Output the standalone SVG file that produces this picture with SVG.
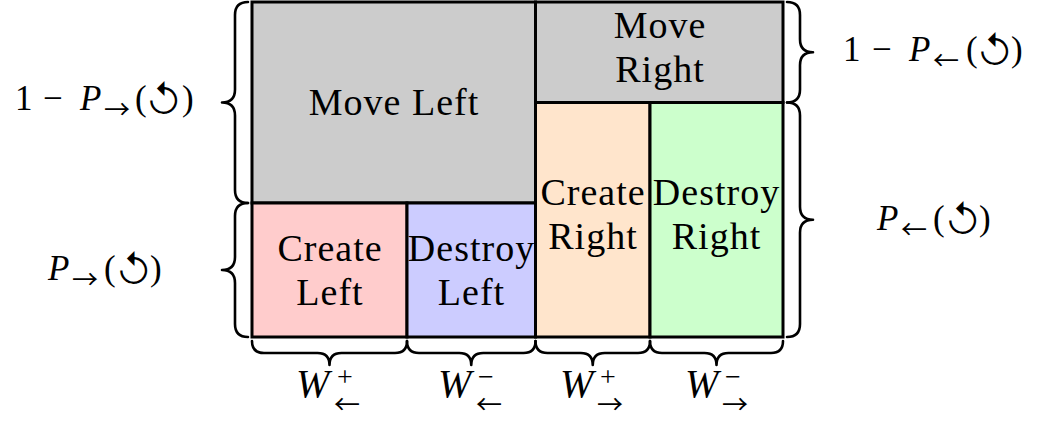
<svg xmlns="http://www.w3.org/2000/svg" width="1037" height="423" viewBox="0 0 1037 423">
<style>
.box{stroke:#000;stroke-width:3}
.lbl{font-family:"Liberation Serif","Times New Roman",serif;font-size:38px;letter-spacing:1px;text-anchor:middle;fill:#000}
.m{font-family:"Liberation Serif","Times New Roman",serif;font-size:35px;fill:#000}
.it{font-style:italic}
.w{font-style:italic;font-size:40px}
.ar{font-family:"Noto Sans CJK SC","DejaVu Sans",sans-serif;font-size:26px}
.cw{font-family:"Inter","DejaVu Sans",sans-serif;font-size:37px;font-weight:300}
.sup{font-size:28px}
.brace{fill:none;stroke:#000;stroke-width:2.6;stroke-linejoin:round;stroke-linecap:round}
</style>
<rect width="1037" height="423" fill="#fff"/>
<g id="move-left"><rect class="box" x="252" y="2" width="283.5" height="201" fill="#cccccc"/><text class="lbl" x="394" y="115">Move Left</text></g>
<g id="move-right"><rect class="box" x="535.5" y="2" width="247.5" height="100.5" fill="#cccccc"/><text class="lbl" x="660" y="38">Move</text><text class="lbl" x="660" y="82">Right</text></g>
<g id="create-left"><rect class="box" x="252" y="203" width="155" height="134" fill="#ffcccc"/><text class="lbl" x="330" y="261">Create</text><text class="lbl" x="330" y="305">Left</text></g>
<g id="destroy-left"><rect class="box" x="407" y="203" width="128.5" height="134" fill="#ccccff"/><text class="lbl" x="471.5" y="261">Destroy</text><text class="lbl" x="471.5" y="305">Left</text></g>
<g id="create-right"><rect class="box" x="535.5" y="102.5" width="114.5" height="234.5" fill="#ffe5cc"/><text class="lbl" x="593" y="205">Create</text><text class="lbl" x="593" y="249">Right</text></g>
<g id="destroy-right"><rect class="box" x="650" y="102.5" width="133" height="234.5" fill="#ccffcc"/><text class="lbl" x="716.5" y="205">Destroy</text><text class="lbl" x="716.5" y="249">Right</text></g>
<g id="connectors">
<path class="brace" d="M248,2 Q235,2 235,15 L235,89.5 Q235,102.5 222,102.5 Q235,102.5 235,115.5 L235,190 Q235,203 248,203"/>
<path class="brace" d="M248,203 Q235,203 235,216 L235,257 Q235,270 222,270 Q235,270 235,283 L235,324 Q235,337 248,337"/>
<path class="brace" d="M787,2 Q800,2 800,15 L800,39.25 Q800,52.25 813,52.25 Q800,52.25 800,65.25 L800,89.5 Q800,102.5 787,102.5"/>
<path class="brace" d="M787,102.5 Q800,102.5 800,115.5 L800,206.75 Q800,219.75 813,219.75 Q800,219.75 800,232.75 L800,324 Q800,337 787,337"/>
<path class="brace" d="M252,341 Q252,353 264,353 L317.5,353 Q329.5,353 329.5,365 Q329.5,353 341.5,353 L395,353 Q407,353 407,341"/>
<path class="brace" d="M407,341 Q407,353 419,353 L459.25,353 Q471.25,353 471.25,365 Q471.25,353 483.25,353 L523.5,353 Q535.5,353 535.5,341"/>
<path class="brace" d="M535.5,341 Q535.5,353 547.5,353 L580.75,353 Q592.75,353 592.75,365 Q592.75,353 604.75,353 L638,353 Q650,353 650,341"/>
<path class="brace" d="M650,341 Q650,353 662,353 L704.5,353 Q716.5,353 716.5,365 Q716.5,353 728.5,353 L771,353 Q783,353 783,341"/>
</g>
<g id="labels">
<text class="m" y="110"><tspan x="15">1</tspan><tspan x="43">−</tspan><tspan x="80" class="it">P</tspan><tspan x="104" y="119" class="ar">→</tspan><tspan x="135" y="110">(</tspan><tspan x="146" y="114" class="cw">↺</tspan><tspan x="182" y="110">)</tspan></text>
<text class="m" y="280"><tspan x="48" class="it">P</tspan><tspan x="72" y="289" class="ar">→</tspan><tspan x="104" y="280">(</tspan><tspan x="116" y="284" class="cw">↺</tspan><tspan x="150" y="280">)</tspan></text>
<text class="m" y="61"><tspan x="843">1</tspan><tspan x="872">−</tspan><tspan x="909" class="it">P</tspan><tspan x="933" y="70" class="ar">←</tspan><tspan x="966" y="61">(</tspan><tspan x="977" y="65" class="cw">↺</tspan><tspan x="1011" y="61">)</tspan></text>
<text class="m" y="230"><tspan x="877" class="it">P</tspan><tspan x="901" y="239" class="ar">←</tspan><tspan x="933" y="230">(</tspan><tspan x="945" y="234" class="cw">↺</tspan><tspan x="979" y="230">)</tspan></text>
<text class="m" y="397"><tspan x="296" class="w">W</tspan><tspan x="337" y="386" class="sup">+</tspan></text>
<text class="m" y="414"><tspan x="334" class="ar">←</tspan></text>
<text class="m" y="397"><tspan x="438" class="w">W</tspan><tspan x="478" y="386" class="sup">−</tspan></text>
<text class="m" y="414"><tspan x="476" class="ar">←</tspan></text>
<text class="m" y="397"><tspan x="560" class="w">W</tspan><tspan x="600" y="386" class="sup">+</tspan></text>
<text class="m" y="414"><tspan x="597" class="ar">→</tspan></text>
<text class="m" y="397"><tspan x="685" class="w">W</tspan><tspan x="725" y="386" class="sup">−</tspan></text>
<text class="m" y="414"><tspan x="722" class="ar">→</tspan></text>
</g>
</svg>
